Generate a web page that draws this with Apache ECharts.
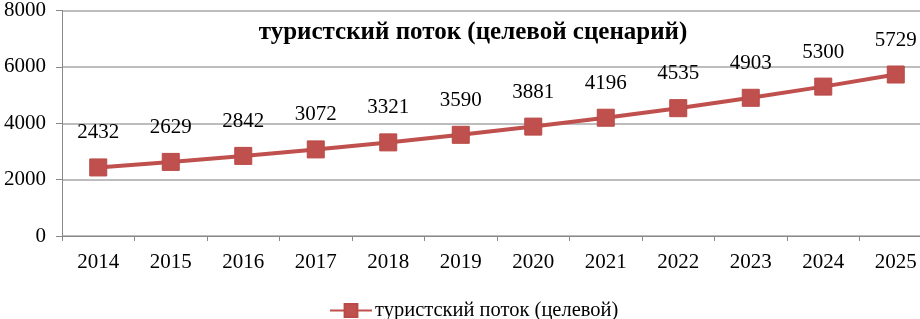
<!DOCTYPE html>
<html>
<head>
<meta charset="utf-8">
<script src="https://cdn.jsdelivr.net/npm/echarts@6/dist/echarts.min.js"></script>
<style>
html,body{margin:0;padding:0;background:#fff;overflow:hidden;width:920px;height:319px;}
#c{width:932px;height:319px;}
</style>
</head>
<body>
<div id="c"></div>
<script>
const titleText = 'туристский поток (целевой сценарий)';
const seriesName = 'туристский поток (целевой)';
const categories = ['2014','2015','2016','2017','2018','2019','2020','2021','2022','2023','2024','2025'];
const values = [2432, 2629, 2842, 3072, 3321, 3590, 3881, 4196, 4535, 4903, 5300, 5729];
const yTicks = [0, 2000, 4000, 6000, 8000];

const font = '"Liberation Serif", "Times New Roman", serif';
const chart = echarts.init(document.getElementById('c'));
chart.setOption({
  animation: false,
  backgroundColor: '#fff',
  title: {
    text: titleText,
    left: 468, top: 15, textAlign: 'center',
    textStyle: {fontFamily: font, fontSize: 25, fontWeight: 'bold', color: '#000'}
  },
  legend: {
    data: [seriesName],
    left: 324, top: 295,
    itemWidth: 42, itemHeight: 16, itemGap: 3,
    textStyle: {fontFamily: font, fontSize: 20.5, color: '#000', padding: [0,0,0,-2]}
  },
  grid: {left: 62, top: 7.5, right: 0, height: 228.5, containLabel: false},
  xAxis: {
    type: 'category',
    data: categories,
    boundaryGap: true,
    axisLine: {show: true, lineStyle: {color: '#888', width: 1}},
    axisTick: {show: true, length: 5, lineStyle: {color: '#888'}},
    axisLabel: {fontFamily: font, fontSize: 21, color: '#000', margin: 16}
  },
  yAxis: {
    type: 'value',
    min: yTicks[0], max: yTicks[yTicks.length-1], interval: 2000,
    axisLine: {show: true, lineStyle: {color: '#888', width: 1}},
    axisTick: {show: true, length: 6, lineStyle: {color: '#888'}},
    axisLabel: {fontFamily: font, fontSize: 21, color: '#000', margin: 16, formatter: v => String(v)},
    splitLine: {show: true, lineStyle: {color: '#bdbdbd', width: 2}}
  },
  series: [{
    name: seriesName,
    type: 'line',
    data: values,
    symbol: 'rect',
    symbolSize: 17,
    lineStyle: {color: '#C0504D', width: 4},
    itemStyle: {color: '#C0504D', borderColor: '#B84A47', borderWidth: 1},
    label: {show: true, position: 'top', distance: 15, fontFamily: font, fontSize: 21, color: '#000'}
  }]
});
</script>
</body>
</html>
